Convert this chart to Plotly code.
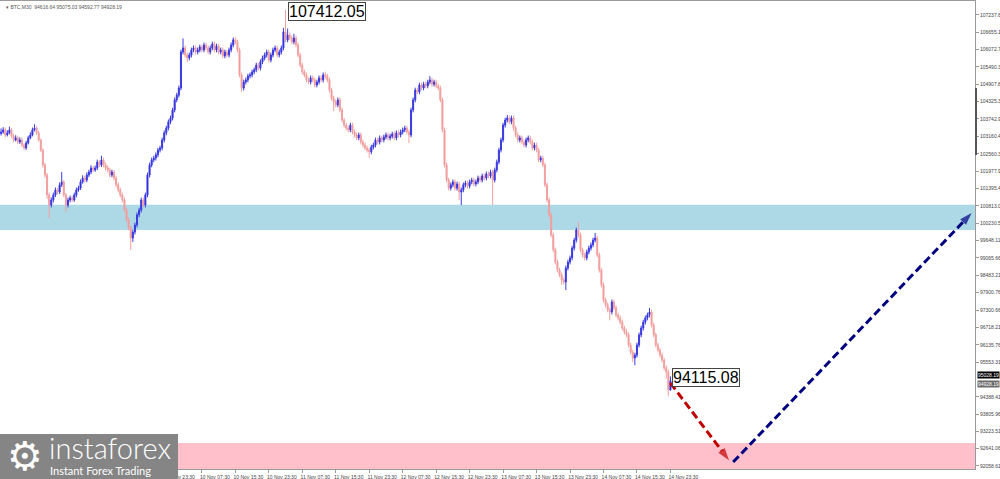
import pandas as pd
import plotly.graph_objects as go

# ---------------- data ----------------
symbol_title = "\u25be BTC,M30  94616.64 95075.03 94592.77 94928.19"
bar_start = "2025-11-08 07:30"   # first M30 bar

opens = [
    103250,103300,103370,103200,103270, 103370,103160,103030,103100,102960,
    103030,102860,102760,102930,103100, 103200,103370,103430,103270,103030,
    102690,102190,101850,101180,100840, 101010,101180,101350,101280,101520,
    101620,101180,100840,101010,101080, 101010,101180,101350,101410,101620,
    101750,101680,101850,101950,102090, 102020,102090,102290,102190,102360,
    102190,102090,102020,101850,101950, 101750,101520,101350,101180,101010,
    100670,100340,100070,99730,99930,   100170,100510,100670,101010,100840,
    101180,101850,102190,102360,102420, 102530,102690,102760,103030,103270,
    103430,103640,103770,104040,104380, 104540,104780,105990,106130,105890,
    105790,105890,106060,106130,105990, 106060,106160,106060,106230,106130,
    105990,106130,106260,106060,106190, 105990,106060,105860,105990,105890,
    106060,106230,106400,106330,106060, 105220,104780,104980,105050,105180,
    105220,105320,105390,105550,105450, 105660,105790,105890,105990,105720,
    105890,106060,106130,105890,105990, 106130,106670,106400,106560,106460,
    106330,106460,106230,105890,105550, 105320,105220,105050,104980,105120,
    105050,104880,104980,105120,105050, 105220,105180,105050,104710,104440,
    104310,104210,104380,104040,103700, 103530,103430,103370,103530,103300,
    103200,103100,103200,102960,102860, 102760,102690,102630,102790,102860,
    103030,102960,103100,103030,103130, 103200,103100,103160,103230,103100,
    103270,103200,103300,103370,103430, 103300,103200,104040,104380,104710,
    104650,104880,104780,104910,104850, 104980,105050,104910,104980,104850,
    104780,104380,103370,102190,101680, 101410,101520,101620,101410,101550,
    101280,101350,101520,101580,101480, 101620,101680,101550,101620,101750,
    101680,101820,101750,101890,101820, 101950,101680,102020,102290,102690,
    103030,103530,103700,103770,103640, 103770,103430,103200,103030,103100,
    102960,102860,103030,103100,102960, 102760,102860,102690,102360,102420,
    102190,101520,101010,100510,99830,  99330,98920,98650,98490,98320,
    98250,98720,98920,99060,99390,      99660,100000,99830,99330,99160,
    99060,99260,99390,99500,99660,      99730,99160,98650,98150,97640,
    97480,97310,97240,97580,97380,      97140,97040,96900,96700,96570,
    96470,96130,95890,95690,95790,      96130,96470,96700,96900,97040,
    97140,97240,96800,96470,96130,      95960,95790,95620,95360,95220,
    94616.64,
]
highs = [
    103420,103460,103450,103360,103480, 103430,103240,103190,103170,103120,
    103100,102920,103000,103170,103290, 103450,103560,103500,103330,103080,
    102750,102260,101920,101260,101100, 101260,101430,101420,101600,101950,
    101680,101250,101090,101160,101150, 101260,101430,101490,101700,101840,
    101830,101940,102030,102180,102160, 102170,102370,102350,102500,102430,
    102280,102170,102100,102030,102020, 101830,101600,101430,101260,101090,
    100750,100420,100150,100010,100250, 100590,100750,101090,101090,101260,
    101930,102270,102440,102500,102610, 102770,102840,103110,103350,103510,
    103720,103850,104120,104460,104620, 104860,106070,106450,106210,105970,
    105970,106140,106210,106210,106140, 106240,106240,106310,106310,106210,
    106210,106340,106340,106270,106270, 106140,106140,106070,106070,106140,
    106310,106480,106480,106410,106140, 105300,105060,105130,105260,105300,
    105400,105470,105630,105630,105740, 105870,105970,106070,106070,105970,
    106140,106210,106210,106070,106210, 106800,107412.05,106780,106640,106540,
    106600,106540,106310,105970,105630, 105400,105300,105130,105200,105200,
    105130,105060,105200,105200,105300, 105330,105260,105130,104790,104520,
    104390,104460,104460,104120,103780, 103610,103510,103610,103610,103380,
    103280,103280,103280,103040,102940, 102840,102770,102870,102940,103110,
    103110,103180,103180,103210,103280, 103280,103240,103310,103310,103350,
    103350,103380,103450,103510,103510, 103380,104120,104460,104790,104790,
    104960,104960,104990,104990,105060, 105180,105130,105060,105060,104930,
    104860,104460,103450,102270,101760, 101600,101700,101700,101630,101630,
    101430,101600,101660,101660,101700, 101760,101760,101700,101830,101830,
    101900,101900,101970,101970,102030, 102030,102100,102370,102770,103110,
    103610,103780,103870,103850,103850, 103850,103510,103280,103180,103180,
    103040,103110,103180,103180,103040, 102940,102940,102770,102500,102500,
    102270,101600,101090,100590,99910,  99410,99000,98730,98570,98400,
    98800,99000,99140,99470,99740,      100080,100270,99910,99410,99240,
    99340,99470,99580,99740,99900,      99810,99240,98730,98230,97720,
    97560,97390,97660,97660,97460,      97220,97120,96980,96780,96650,
    96550,96210,95970,95870,96210,      96550,96780,96980,97120,97220,
    97380,97320,96880,96550,96210,      96040,95870,95700,95440,95300,
    95075.03,
]
lows = [
    103180,103240,103120,103150,103220, 103100,102960,102980,102890,102900,
    102790,102680,102700,102880,103050, 103150,103320,103200,102980,102620,
    102100,101760,101050,100400,100760, 100930,101110,101200,101210,101450,
    101100,100600,100760,100930,100940, 100950,101100,101290,101350,101560,
    101600,101610,101780,101880,101950, 101960,102020,102110,102120,102110,
    102010,101940,101770,101780,101670, 101440,101270,101100,100930,100590,
    100260,99990,99330,99600,99850,     100090,100430,100590,100760,100760,
    101100,101770,102110,102280,102340, 102450,102610,102680,102950,103190,
    103350,103560,103690,103960,104300, 104460,104700,105910,105810,105650,
    105710,105810,105980,105910,105910, 105980,105980,105980,106050,105910,
    105910,106050,105980,105980,105910, 105910,105780,105780,105810,105810,
    105980,106150,106250,105980,105140, 104640,104700,104900,104970,105100,
    105140,105240,105310,105370,105370, 105580,105710,105810,105640,105640,
    105810,105980,105810,105810,105910, 106050,106320,106320,106380,106250,
    106250,106150,105810,105470,105240, 105140,104970,104900,104900,104970,
    104800,104800,104900,104970,104970, 105100,104970,104630,104360,104000,
    104130,104130,103960,103620,103450, 103350,103290,103290,103220,103120,
    103020,103020,102880,102780,102680, 102610,102430,102550,102710,102780,
    102880,102880,102950,102950,103050, 103020,103020,103080,103020,103020,
    103120,103120,103220,103290,103220, 102930,103120,103960,104300,104570,
    104570,104700,104700,104770,104770, 104900,104830,104830,104770,104700,
    104300,103290,102110,101600,101330, 101330,101440,101330,101330,101010,
    100840,101270,101440,101400,101400, 101540,101470,101470,101540,101600,
    101600,101670,101670,101740,101740, 100840,101600,101940,102210,102610,
    102950,103450,103620,103560,103560, 103350,103120,102950,102950,102880,
    102780,102780,102950,102880,102680, 102680,102610,102280,102280,102110,
    101440,100930,100430,99750,99250,   98840,98570,98410,98150,98170,
    97980,98640,98840,98980,99310,      99580,99750,99250,99080,98980,
    98980,99180,99310,99420,99580,      99080,98570,98070,97560,97400,
    97230,96960,97160,97300,97060,      96960,96820,96620,96490,96390,
    96050,95810,95550,95450,95710,      96050,96390,96620,96820,96960,
    97060,96720,96390,96050,95880,      95710,95540,95280,95000,94400,
    94592.77,
]
closes = [
    103300,103370,103200,103270,103370, 103160,103030,103100,102960,103030,
    102860,102760,102930,103100,103200, 103370,103430,103270,103030,102690,
    102190,101850,101180,100840,101010, 101180,101350,101280,101520,101620,
    101180,100840,101010,101080,101010, 101180,101350,101410,101620,101750,
    101680,101850,101950,102090,102020, 102090,102290,102190,102360,102190,
    102090,102020,101850,101950,101750, 101520,101350,101180,101010,100670,
    100340,100070,99730,99930,100170,   100510,100670,101010,100840,101180,
    101850,102190,102360,102420,102530, 102690,102760,103030,103270,103430,
    103640,103770,104040,104380,104540, 104780,105990,106130,105890,105790,
    105890,106060,106130,105990,106060, 106160,106060,106230,106130,105990,
    106130,106260,106060,106190,105990, 106060,105860,105990,105890,106060,
    106230,106400,106330,106060,105220, 104780,104980,105050,105180,105220,
    105320,105390,105550,105450,105660, 105790,105890,105990,105720,105890,
    106060,106130,105890,105990,106130, 106670,106400,106560,106460,106330,
    106460,106230,105890,105550,105320, 105220,105050,104980,105120,105050,
    104880,104980,105120,105050,105220, 105180,105050,104710,104440,104310,
    104210,104380,104040,103700,103530, 103430,103370,103530,103300,103200,
    103100,103200,102960,102860,102760, 102690,102630,102790,102860,103030,
    102960,103100,103030,103130,103200, 103100,103160,103230,103100,103270,
    103200,103300,103370,103430,103300, 103200,104040,104380,104710,104650,
    104880,104780,104910,104850,104980, 105050,104910,104980,104850,104780,
    104380,103370,102190,101680,101410, 101520,101620,101410,101550,101280,
    101350,101520,101580,101480,101620, 101680,101550,101620,101750,101680,
    101820,101750,101890,101820,101950, 101680,102020,102290,102690,103030,
    103530,103700,103770,103640,103770, 103430,103200,103030,103100,102960,
    102860,103030,103100,102960,102760, 102860,102690,102360,102420,102190,
    101520,101010,100510,99830,99330,   98920,98650,98490,98320,98250,
    98720,98920,99060,99390,99660,      100000,99830,99330,99160,99060,
    99260,99390,99500,99660,99730,      99160,98650,98150,97640,97480,
    97310,97240,97580,97380,97140,      97040,96900,96700,96570,96470,
    96130,95890,95690,95790,96130,      96470,96700,96900,97040,97140,
    97240,96800,96470,96130,95960,      95790,95620,95360,95220,94616.64,
    94928.19,
]

high_time, high_value = "2025-11-11 03:30", 107412.05
low_label_time, low_label_value = "2025-11-14 23:30", 94115.08
bid_price, ask_price = 94928.19, 95028.19

support_zone = [100000, 100850]
target_zone = [91957, 92830]

down_path_times = ["2025-11-14 23:30", "2025-11-15 13:30"]
down_path_prices = [94850, 92250]
up_path_times = ["2025-11-15 14:30", "2025-11-17 23:30"]
up_path_prices = [92190, 100570]

# labels left of 9 Nov 23:30 are hidden by the logo plate in the reference
x_tick_times = [
    "2025-11-09 23:30",
    "2025-11-10 07:30", "2025-11-10 15:30", "2025-11-10 23:30",
    "2025-11-11 07:30", "2025-11-11 15:30", "2025-11-11 23:30",
    "2025-11-12 07:30", "2025-11-12 15:30", "2025-11-12 23:30",
    "2025-11-13 07:30", "2025-11-13 15:30", "2025-11-13 23:30",
    "2025-11-14 07:30", "2025-11-14 15:30", "2025-11-14 23:30",
]
x_tick_labels = [
    "9 Nov 23:30",
    "10 Nov 07:30", "10 Nov 15:30", "10 Nov 23:30",
    "11 Nov 07:30", "11 Nov 15:30", "11 Nov 23:30",
    "12 Nov 07:30", "12 Nov 15:30", "12 Nov 23:30",
    "13 Nov 07:30", "13 Nov 15:30", "13 Nov 23:30",
    "14 Nov 07:30", "14 Nov 15:30", "14 Nov 23:30",
]
y_tick_values = [107237.6, 106655.1, 106072.7, 105490.3, 104907.8, 104325.3,
                 103742.9, 103160.4, 102560.3, 101977.9, 101395.4, 100813.0,
                 100230.5, 99648.11, 99065.66, 98483.21, 97900.76, 97300.66,
                 96718.21, 96135.76, 95553.31, 94388.41, 93805.96, 93223.51,
                 92641.06, 92058.61]
y_tick_labels = ["107237.6", "106655.1", "106072.7", "105490.3", "104907.8",
                 "104325.3", "103742.9", "103160.4", "102560.3", "101977.9",
                 "101395.4", "100813.0", "100230.5", "99648.11", "99065.66",
                 "98483.21", "97900.76", "97300.66", "96718.21", "96135.76",
                 "95553.31", "94388.41", "93805.96", "93223.51", "92641.06",
                 "92058.61"]
scale_marker = [102525, 104780]

x_range = ["2025-11-08 07:15", "2025-11-18 00:18"]
y_range = [91957, 107708]

# ---------------- figure ----------------
times = pd.date_range(bar_start, periods=len(closes), freq="30min")

fig = go.Figure()

fig.add_trace(go.Candlestick(
    x=times, open=opens, high=highs, low=lows, close=closes,
    increasing=dict(line=dict(color="#3b3be0", width=1), fillcolor="#1414d2"),
    decreasing=dict(line=dict(color="#f2a0a0", width=1), fillcolor="#f08a8a"),
    hoverinfo="skip", showlegend=False,
))

fig.add_trace(go.Scatter(
    x=down_path_times, y=down_path_prices, mode="lines+markers",
    line=dict(color="#c00000", width=3, dash="8px,4px"),
    marker=dict(symbol="arrow", size=[0, 13], angleref="previous",
                color="#c00000", line=dict(width=0)),
    hoverinfo="skip", showlegend=False,
))
fig.add_trace(go.Scatter(
    x=up_path_times, y=up_path_prices, mode="lines+markers",
    line=dict(color="#000080", width=3, dash="8px,4px"),
    marker=dict(symbol="arrow", size=[0, 13], angleref="previous",
                color="#000080", line=dict(width=0)),
    hoverinfo="skip", showlegend=False,
))

shapes = [
    dict(type="rect", xref="paper", yref="y", x0=0, x1=1,
         y0=support_zone[0], y1=support_zone[1],
         fillcolor="#add8e6", line=dict(width=0), layer="below"),
    dict(type="rect", xref="paper", yref="y", x0=0, x1=1,
         y0=target_zone[0], y1=target_zone[1],
         fillcolor="#ffc0cb", line=dict(width=0), layer="below"),
    dict(type="line", xref="paper", yref="y", x0=1.001, x1=1.001,
         y0=scale_marker[0], y1=scale_marker[1],
         line=dict(color="#555555", width=2)),
    # logo plate
    dict(type="rect", xref="paper", yref="paper", x0=0, x1=0.1826,
         y0=-0.022, y1=0.0748, fillcolor="#858585",
         line=dict(width=0), layer="above"),
]

annotations = [
    dict(xref="paper", yref="paper", x=0.004, y=0.998, xanchor="left",
         yanchor="top", text=symbol_title, showarrow=False,
         font=dict(size=5, color="#555555", family="Liberation Sans")),
    dict(x=high_time, y=high_value, xref="x", yref="y", xanchor="left",
         yanchor="middle", xshift=2, yshift=-2, text=f"{high_value:.2f}",
         showarrow=False, bgcolor="white", bordercolor="#444444",
         borderwidth=1, borderpad=0,
         font=dict(size=16, color="black", family="Liberation Sans")),
    dict(x=low_label_time, y=lows[-1], xref="x", yref="y", xanchor="left",
         yanchor="middle", xshift=2, yshift=13, text=f"{low_label_value:.2f}",
         showarrow=False, bgcolor="white", bordercolor="#444444",
         borderwidth=1, borderpad=0,
         font=dict(size=16, color="black", family="Liberation Sans")),
    dict(xref="paper", yref="y", x=1.002, y=bid_price, xanchor="left",
         yanchor="top", yshift=1, text=f"{bid_price:.2f}", showarrow=False,
         bgcolor="#6a6a6a", borderpad=0,
         font=dict(size=5, color="white", family="Liberation Sans")),
    dict(xref="paper", yref="y", x=1.002, y=ask_price, xanchor="left",
         yanchor="bottom", yshift=-1, text=f"{ask_price:.2f}", showarrow=False,
         bgcolor="black", borderpad=0,
         font=dict(size=5, color="white", family="Liberation Sans")),
    # logo
    dict(xref="paper", yref="paper", x=0.026, y=0.027, xanchor="center",
         yanchor="middle", text="\u2699", showarrow=False,
         font=dict(size=40, color="white", family="DejaVu Sans")),
    dict(xref="paper", yref="paper", x=0.048, y=0.046, xanchor="left",
         yanchor="middle", text="instaforex", showarrow=False,
         font=dict(size=29, color="white", family="Lato", weight=300)),
    dict(xref="paper", yref="paper", x=0.049, y=-0.004, xanchor="left",
         yanchor="middle", text="Instant Forex Trading", showarrow=False,
         font=dict(size=11, color="white", family="Lato")),
]

fig.update_layout(
    width=1000, height=479,
    margin=dict(l=0, r=25, t=1, b=10),
    paper_bgcolor="white", plot_bgcolor="white",
    showlegend=False, hovermode=False,
    shapes=shapes, annotations=annotations,
    xaxis=dict(
        type="date", range=x_range, rangeslider=dict(visible=False),
        showgrid=False, zeroline=False, showline=True, linecolor="#9a9a9a",
        linewidth=1, mirror=True, ticks="outside", ticklen=3,
        tickcolor="#9a9a9a", tickvals=x_tick_times, ticktext=x_tick_labels,
        ticklabelshift=13,
        tickfont=dict(size=5, color="#444444", family="Liberation Sans"),
    ),
    yaxis=dict(
        side="right", range=y_range, showgrid=False, zeroline=False,
        showline=True, linecolor="#9a9a9a", linewidth=1, ticks="outside",
        ticklen=3, tickcolor="#9a9a9a", tickvals=y_tick_values,
        ticktext=y_tick_labels,
        tickfont=dict(size=5, color="#444444", family="Liberation Sans"),
    ),
)

fig.write_html(
    "out.html",
    config={"displayModeBar": False},
    post_script="document.body.style.margin='0';document.body.style.overflow='hidden';",
)
